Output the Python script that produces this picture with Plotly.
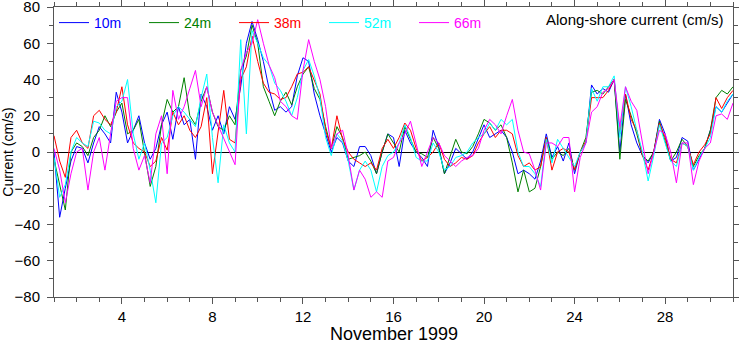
import plotly.graph_objects as go

# Along-shore current at five depths, November 1999, sampled every 6 hours
# starting on day 1 (00:00) through day 31.
start_day = 1.0
step_day = 0.25

depths = ["10m", "24m", "38m", "52m", "66m"]
colors = ["#0000ff", "#008000", "#ff0000", "#00ffff", "#ff00ff"]

cur_10m = [
    0, -36, -20, -5,
    3, 2, -6, 5,
    14, 10, 5, 33,
    22, 5, 12, 20,
    5, -4, 2, 15,
    22, 7, 25, 15,
    18, -4, 32, 25,
    12, 20, 10, 25,
    18, 36, 60, 72,
    62, 50, 35, 23,
    25, 22, 25, 42,
    52, 50, 32, 20,
    10, 0, 8, 5,
    -5, -8, 3, 3,
    -2, -12, 0, 10,
    8, -8, 12, 5,
    0, -3, -8, 12,
    3, -12, -6, 2,
    -1, -4, 0, 8,
    15, 8, 10, 12,
    8, 0, -12, -10,
    -12, -15, -5, 10,
    -3, 3, -5, 5,
    -12, 0, 5, 37,
    32, 35, 33, 40,
    0, 32, 15, 5,
    -2, -6, 0, 18,
    10, -5, -3, 8,
    6, -10, -4, 2,
    12, 25, 22, 27,
    32,
]

cur_24m = [
    -4, -18, -32, 0,
    5, 3, -2, 8,
    12, 20, 14, 22,
    27, 10, 12, 18,
    0, -19, -8, 15,
    29, 22, 25, 41,
    20, 15, 28, 36,
    22, 14, 12, 20,
    15, 45, 53, 70,
    60, 36, 28, 20,
    28, 33, 26, 36,
    43, 47, 35, 29,
    14, 2, 14, 8,
    -4, -3, -2, 0,
    -5, -12, 0, 10,
    5, 0, 14, 7,
    0, -1, -3, 8,
    2, -12, -2, 7,
    0, -1, 3, 10,
    18, 16, 12, 15,
    8, -6, -22, -10,
    -22, -20, -8, 8,
    -4, 0, -2, 2,
    -10, 0, 8, 33,
    34, 32, 36, 40,
    -4, 29, 20, 10,
    -2, -5, 0, 17,
    6, -5, 0, 7,
    3, -8, -2, 2,
    12, 30, 34, 32,
    36,
]

cur_38m = [
    9, -5, -14, 8,
    12, 5, 2, 20,
    23, 18, 15, 22,
    36, 15, 5, 2,
    0, -8, -5, 8,
    1, 22, 15, 20,
    12, 8, 14, 30,
    -12, 12, 34, 7,
    5, 40, 47, 64,
    50, 38, 33, 32,
    29, 30, 36, 43,
    44, 47, 40, 32,
    12, 2, 20, 7,
    0, -4, -6, -8,
    -6, -10, 2, 7,
    2, 8, 16, 12,
    2, -5, -3, 0,
    5, -4, -8, -6,
    -3, -4, -2, 5,
    10, 14, 8, 12,
    12, 10, -2, -8,
    -6, -10, -8, 8,
    -10, 0, 2, 0,
    -10, 0, 6, 30,
    30, 30, 34, 40,
    10, 32, 18, 12,
    -2, -10, 0, 16,
    8, -4, -6, 5,
    3, -7, 0, 4,
    10, 30, 24, 30,
    34,
]

cur_52m = [
    -3, -25, -18, 0,
    8, 5, 3, 17,
    16, 12, 10, 25,
    28, 40, 10, -4,
    5, -10, -28, 5,
    8, 20, 25, 22,
    18, 14, 30, 43,
    8, -17, 15, 5,
    0, 62, 10, 67,
    60, 52, 48, 38,
    34, 28, 20, 30,
    45, 51, 42, 30,
    8, -2, 10, 6,
    -5, -21, -10, -5,
    -10, -22, -8, -2,
    0, 5, 15, 8,
    -3, -5, -5, 5,
    0, -10, -8, -3,
    -2, 0, 5, 8,
    10, 16, 12, 18,
    15, 18, 0, -8,
    -8, -12, -19, 7,
    -6, 7, 2, -3,
    -8, 0, 5, 35,
    28, 36, 36, 42,
    8, 36, 25, 12,
    0, -16, -2, 15,
    5, -5, -8, 5,
    3, -10, -3, 2,
    8, 25, 22, 28,
    32,
]

cur_66m = [
    2, -10, -28, -12,
    0, 2, -21, 0,
    8, -10, 10, 28,
    30, 30, 2, -10,
    -2, -17, 10, 20,
    -12, 34, 18, 25,
    35, 45, 25, 36,
    22, 15, 8, 0,
    -7, 45, 55, 60,
    73, 60, 48, 41,
    28, 25, 20, 18,
    45, 62, 50, 40,
    25, 2, 10, 12,
    -2, -21, -10, -15,
    -25, -22, -25, -5,
    -3, 5, 10, 17,
    5, -8, 0, 8,
    5, -2, -5, -8,
    -5, -3, -2, 2,
    12, 18, 15, 10,
    20, 29, 12, 0,
    -1, -10, -21, 5,
    5, 3, 8, 8,
    -22, -3, 5, 22,
    25, 33, 35, 40,
    14, 36, 28, 23,
    5, -12, 0, 12,
    10, 0, -17, 5,
    5, -18, -5, 2,
    5, 20, 21, 18,
    27,
]

series = [cur_10m, cur_24m, cur_38m, cur_52m, cur_66m]

x_tick_vals = [4, 8, 12, 16, 20, 24, 28]
y_tick_vals = [-80, -60, -40, -20, 0, 20, 40, 60, 80]

FONT = "Liberation Sans, Arial, Helvetica, sans-serif"
AXIS_GREY = "#555555"

fig = go.Figure()
for name, color, vals in zip(depths, colors, series):
    days = [start_day + i * step_day for i in range(len(vals))]
    fig.add_trace(go.Scatter(
        x=days, y=vals, mode="lines", name=f'<span style="color:{color}">{name}</span>',
        line=dict(color=color, width=1),
    ))

# panel label, top right
fig.add_annotation(
    text="Along-shore current (cm/s)", xref="paper", yref="paper",
    x=0.99, y=0.958, xanchor="right", yanchor="middle", showarrow=False,
    font=dict(family=FONT, size=15, color="black"),
)
# x-axis title, placed below the tick labels
fig.add_annotation(
    text="November 1999", xref="paper", yref="paper",
    x=0.5, y=-0.128, xanchor="center", yanchor="middle", showarrow=False,
    borderpad=0, font=dict(family=FONT, size=18, color="black"),
)

fig.update_layout(
    width=739, height=342,
    margin=dict(l=54, r=6, t=7, b=45, autoexpand=False),
    plot_bgcolor="white", paper_bgcolor="white",
    font=dict(family=FONT, size=14, color="black"),
    showlegend=True,
    legend=dict(
        orientation="h", x=0, xanchor="left", y=1.0, yanchor="top",
        bgcolor="rgba(0,0,0,0)", entrywidth=45, entrywidthmode="pixels",
        itemwidth=30, font=dict(family=FONT, size=14),
    ),
    xaxis=dict(
        range=[1, 31], tickvals=x_tick_vals, ticks="outside", ticklen=6,
        tickcolor=AXIS_GREY, showline=True, linecolor=AXIS_GREY, linewidth=1,
        mirror="ticks", showgrid=False, zeroline=False, automargin=True,
        tickfont=dict(family=FONT, size=15), ticklabeloverflow="allow",
        minor=dict(dtick=1, tick0=0, ticks="outside", ticklen=4, tickcolor=AXIS_GREY),
    ),
    yaxis=dict(
        range=[-80, 80], tickvals=y_tick_vals, ticks="outside", ticklen=6,
        tickcolor=AXIS_GREY, showline=True, linecolor=AXIS_GREY, linewidth=1,
        mirror="ticks", showgrid=False, automargin=True,
        zeroline=True, zerolinecolor="black", zerolinewidth=1,
        tickfont=dict(family=FONT, size=15), ticklabelstandoff=4,
        ticklabeloverflow="allow",
        minor=dict(dtick=10, tick0=0, ticks="outside", ticklen=4, tickcolor=AXIS_GREY),
        title=dict(text="Current (cm/s)", font=dict(family=FONT, size=14), standoff=0),
    ),
)

fig.write_html("out.html")
